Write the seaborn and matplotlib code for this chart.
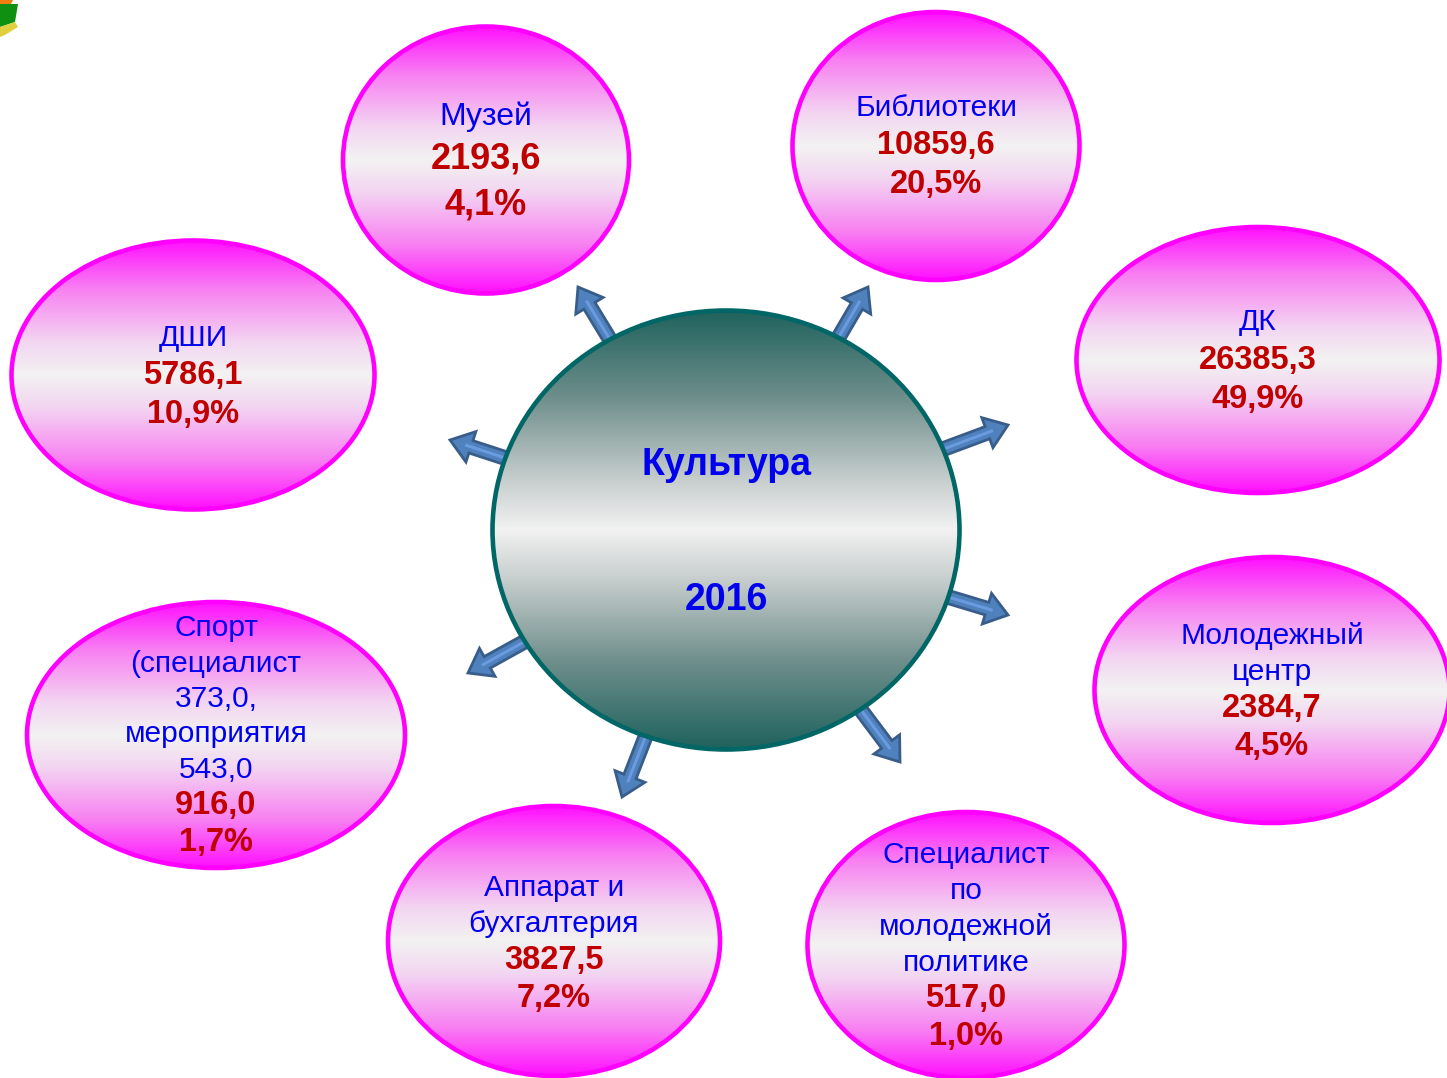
import numpy as np
import matplotlib
matplotlib.use("Agg")
import matplotlib.pyplot as plt
from matplotlib.patches import Ellipse, FancyArrow, Polygon
from matplotlib.colors import LinearSegmentedColormap
import seaborn as sns

sns.set_theme(style="white")
plt.rcParams['font.family'] = ['Liberation Sans', 'DejaVu Sans']

# data
names = ["Музей", "Библиотеки", "ДК", "Молодежный\nцентр",
         "Специалист\nпо\nмолодежной\nполитике", "Аппарат и\nбухгалтерия",
         "Спорт\n(специалист\n373,0,\nмероприятия\n543,0", "ДШИ"]
values = ["2193,6", "10859,6", "26385,3", "2384,7", "517,0", "3827,5", "916,0", "5786,1"]
shares = ["4,1%", "20,5%", "49,9%", "4,5%", "1,0%", "7,2%", "1,7%", "10,9%"]
center_title = "Культура"
center_year = "2016"

# layout (pixels): ellipse centre, width, height, first text line y, line step
ell_x = [486, 936, 1258, 1272, 966, 554, 216, 193]
ell_y = [160, 146, 360, 690, 945, 941, 735, 375]
ell_w = [286, 287, 363, 355, 317, 332, 378, 363]
ell_h = [267, 268, 266, 266, 266, 270, 266, 269]
text_y0 = [117, 108, 322, 636, 855, 888, 628, 338]
text_step = [42, 37.5, 38, 36.5, 36, 36.5, 35.5, 37.5]
arrow_tips = [(578, 287), (868, 287), (1008, 425), (1008, 615),
              (900, 762), (622, 797), (468, 673), (450, 440)]
cx, cy, cw, ch = 726, 530, 467, 439

W, H = 1447, 1078
fig = plt.figure(figsize=(W / 100, H / 100), dpi=100)
ax = fig.add_axes([0, 0, 1, 1])
ax.set_xlim(0, W)
ax.set_ylim(H, 0)
ax.axis("off")

pink = LinearSegmentedColormap.from_list(
    "pink", [(0, "#ff10ff"), (0.18, "#f880f2"), (0.38, "#f3d6f1"),
             (0.5, "#f2f2f2"), (0.62, "#f3d6f1"), (0.82, "#f880f2"), (1, "#ff10ff")])
teal = LinearSegmentedColormap.from_list(
    "teal", [(0, "#1f625d"), (0.2, "#6f8f8c"), (0.38, "#c4cccb"),
             (0.5, "#f2f2f2"), (0.62, "#c4cccb"), (0.8, "#6f8f8c"), (1, "#1f625d")])
grad = np.linspace(0, 1, 256).reshape(-1, 1)


def gradient_ellipse(x, y, w, h, cmap, edge, z):
    e = Ellipse((x, y), w, h, fc="none", ec=edge, lw=3.3, zorder=z + 1)
    ax.add_patch(e)
    im = ax.imshow(grad, cmap=cmap, aspect="auto", zorder=z,
                   extent=(x - w / 2, x + w / 2, y + h / 2, y - h / 2))
    im.set_clip_path(e)


# decorative corner fragment
ax.add_patch(Polygon([(0, 0), (13, 0), (11, 4), (0, 4)], fc="#f07d10", ec="none"))
ax.add_patch(Polygon([(0, 4), (18, 4), (15, 22), (0, 27)], fc="#109010", ec="none"))
ax.add_patch(Polygon([(0, 27), (15, 22), (18, 27), (5, 35), (0, 37)], fc="#e0d040", ec="none"))

# arrows
for tx, ty in arrow_tips:
    vx, vy = tx - cx, ty - cy
    d = np.hypot(vx, vy)
    ux, uy = vx / d, vy / d
    sx, sy = cx + ux * 190, cy + uy * 190
    ax.add_patch(FancyArrow(sx, sy, tx - sx, ty - sy, width=13, head_width=32,
                            head_length=22, length_includes_head=True,
                            fc="#4f81bd", ec="#385d8a", lw=2, zorder=1))
    ax.plot([sx, tx - ux * 16], [sy, ty - uy * 16], color="#6a9be0",
            lw=2.2, solid_capstyle="butt", zorder=1.5)

gradient_ellipse(cx, cy, cw, ch, teal, "#006666", 2)
ax.text(cx, 465, center_title, ha="center", va="center", fontsize=27,
        fontweight="bold", color="#0000ee", zorder=5)
ax.text(cx, 600, center_year, ha="center", va="center", fontsize=27,
        fontweight="bold", color="#0000ee", zorder=5)

for i in range(len(names)):
    gradient_ellipse(ell_x[i], ell_y[i], ell_w[i], ell_h[i], pink, "#ff00ff", 3)
    name_fs = 23 if i == 0 else 21.5
    num_fs = 26 if i == 0 else 23.5
    y = text_y0[i]
    for ln in names[i].split("\n"):
        ax.text(ell_x[i], y, ln, ha="center", va="center", fontsize=name_fs,
                color="#0000ee", zorder=6)
        y += text_step[i]
    ax.text(ell_x[i], y, values[i], ha="center", va="center", fontsize=num_fs,
            fontweight="bold", color="#c00000", zorder=6)
    y += text_step[i] * (1.1 if i == 0 else 1.03)
    ax.text(ell_x[i], y, shares[i], ha="center", va="center", fontsize=num_fs,
            fontweight="bold", color="#c00000", zorder=6)

fig.savefig("out.png", dpi=100)
